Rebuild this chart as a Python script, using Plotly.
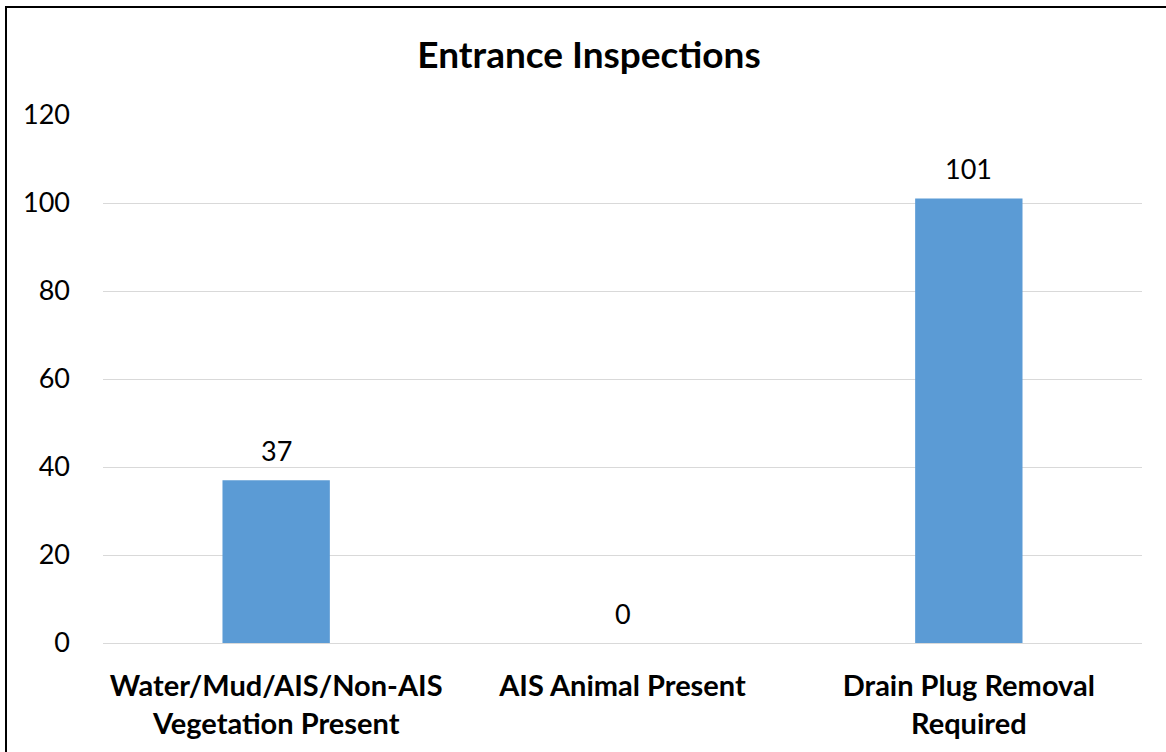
import plotly.graph_objects as go

categories = ["Water/Mud/AIS/Non-AIS<br>Vegetation Present", "AIS Animal Present", "Drain Plug Removal<br>Required"]
values = [37, 0, 101]
y_ticks = [0, 20, 40, 60, 80, 100, 120]

W, H = 1166, 752
L, R, T, B = 103, 24, 115, 109
pw, ph = W - L - R, H - T - B

FONT = "Lato"

fig = go.Figure(go.Bar(
    x=categories, y=values,
    marker=dict(color="#5b9bd5", line=dict(width=0)),
    cliponaxis=False,
    width=0.31,
    hoverinfo="x+y",
))

for c, v in zip(categories, values):
    fig.add_annotation(x=c, y=v, text=str(v), showarrow=False, yanchor="middle", yshift=30,
                       font=dict(family=FONT, size=27, color="#000000"))

fig.update_layout(
    width=W, height=H,
    margin=dict(l=L, r=R, t=T, b=B),
    paper_bgcolor="white", plot_bgcolor="white",
    showlegend=False,
    title=dict(text="<b>Entrance Inspections</b>", x=589 / W, xanchor="center",
               y=1 - 55 / H, yanchor="middle",
               font=dict(family=FONT, size=37, color="#000000")),
    font=dict(family=FONT, color="#000000"),
)
fig.update_yaxes(range=[0, 120], tickvals=y_ticks, showgrid=True, gridcolor="#d9d9d9", gridwidth=1,
                 zeroline=False, showline=False, ticks="", ticklabelstandoff=32,
                 tickfont=dict(family=FONT, size=27, color="#000000"))
fig.update_xaxes(showline=True, linecolor="#d9d9d9", linewidth=1, ticks="",
                 tickfont=dict(family=FONT, size=29, color="#000000"), ticklabelstandoff=17,
                 tickvals=categories,
                 ticktext=["<b>" + c.replace("<br>", "</b><br><b>") + "</b>" for c in categories])

# outer border
fig.add_shape(type="rect", xref="paper", yref="paper",
              x0=(6 - L) / pw, x1=(W + 6 - L) / pw,
              y0=-(H + 6 - (T + ph)) / ph, y1=(T + ph - 7) / ph,
              line=dict(color="#000000", width=2), fillcolor="rgba(0,0,0,0)", layer="above")

fig.write_html("out.html", config={"displayModeBar": False},
               post_script="document.body.style.margin='0';document.body.style.overflow='hidden';")
